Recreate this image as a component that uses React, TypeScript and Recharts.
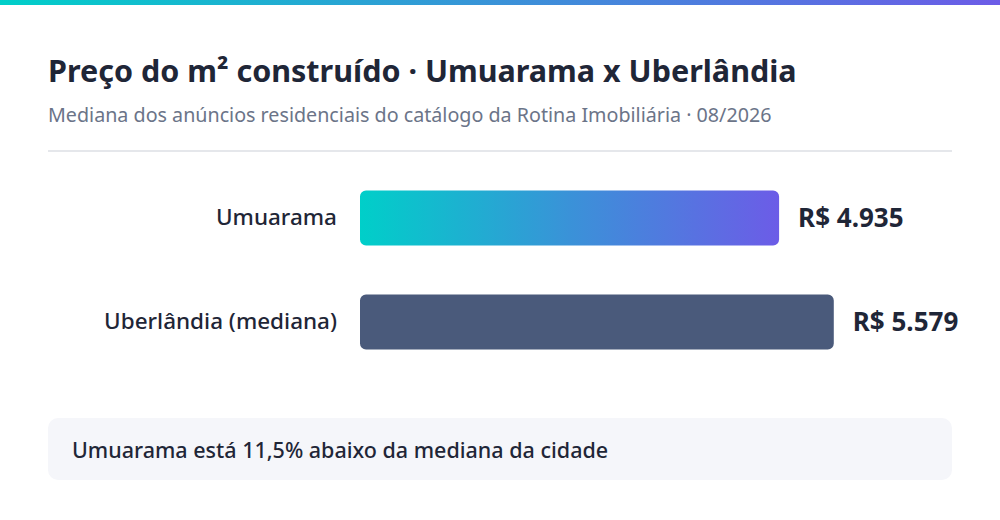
import React from 'react';
import { BarChart, Bar, XAxis, YAxis, Cell, LabelList } from 'recharts';

const cities = ['Umuarama', 'Uberlândia (mediana)'];
const pricePerM2 = [4935, 5579];
const barColors = ['url(#umuaramaGrad)', '#4a5a7b'];

const data = cities.map((city, i) => ({ city, price: pricePerM2[i] }));

const FONT = '"Noto Sans", "Open Sans", sans-serif';
const INK = '#1f2637';

const fmtBRL = (v: number) => 'R$ ' + v.toLocaleString('pt-BR');

export default function App() {
  return (
    <div
      style={{
        position: 'absolute',
        left: 0,
        top: 0,
        width: 1000,
        height: 520,
        background: '#ffffff',
        fontFamily: FONT,
        overflow: 'hidden',
      }}
    >
      <div
        style={{
          position: 'absolute',
          left: 0,
          top: 0,
          width: 1000,
          height: 5,
          background: 'linear-gradient(90deg, #00cfc9 0%, #3a92d8 50%, #6c5ce7 100%)',
        }}
      />
      <div
        style={{
          position: 'absolute',
          left: 48,
          top: 52,
          fontSize: 30.5,
          fontWeight: 700,
          color: INK,
          lineHeight: '36px',
          whiteSpace: 'nowrap',
        }}
      >
        Preço do m² construído · Umuarama x Uberlândia
      </div>
      <div
        style={{
          position: 'absolute',
          left: 48,
          top: 102.5,
          fontSize: 19.7,
          color: '#6b7488',
          lineHeight: '24px',
          whiteSpace: 'nowrap',
        }}
      >
        Mediana dos anúncios residenciais do catálogo da Rotina Imobiliária · 08/2026
      </div>
      <div
        style={{
          position: 'absolute',
          left: 48,
          top: 150,
          width: 904,
          height: 2,
          background: '#e5e7eb',
        }}
      />
      <div style={{ position: 'absolute', left: 0, top: 150 }}>
        <BarChart
          width={1000}
          height={240}
          data={data}
          layout="vertical"
          margin={{ top: 15.5, bottom: 16.5, left: 0, right: 88 }}
          barCategoryGap={0}
        >
          <defs>
            <linearGradient id="umuaramaGrad" x1="0" y1="0" x2="1" y2="0">
              <stop offset="0%" stopColor="#00cfc9" />
              <stop offset="50%" stopColor="#3a92d8" />
              <stop offset="100%" stopColor="#6c5ce7" />
            </linearGradient>
          </defs>
          <XAxis type="number" domain={[0, 6500]} hide />
          <YAxis
            type="category"
            dataKey="city"
            width={360}
            axisLine={false}
            tickLine={false}
            tickMargin={17}
            tick={{ fill: INK, fontSize: 22.5, fontWeight: 500, fontFamily: FONT }}
          />
          <Bar dataKey="price" barSize={55} radius={6} isAnimationActive={false}>
            {data.map((d, i) => (
              <Cell key={d.city} fill={barColors[i]} />
            ))}
            <LabelList
              dataKey="price"
              position="right"
              offset={19}
              formatter={(v: any) => fmtBRL(Number(v))}
              style={{ fill: INK, fontSize: 26, fontWeight: 700, fontFamily: FONT }}
            />
          </Bar>
        </BarChart>
      </div>
      <div
        style={{
          position: 'absolute',
          left: 48,
          top: 418,
          width: 904,
          height: 62,
          borderRadius: 10,
          background: '#f5f6fa',
          display: 'flex',
          alignItems: 'center',
          paddingLeft: 24,
          boxSizing: 'border-box',
          fontSize: 21.5,
          fontWeight: 500,
          color: INK,
          whiteSpace: 'nowrap',
        }}
      >
        Umuarama está 11,5% abaixo da mediana da cidade
      </div>
    </div>
  );
}
